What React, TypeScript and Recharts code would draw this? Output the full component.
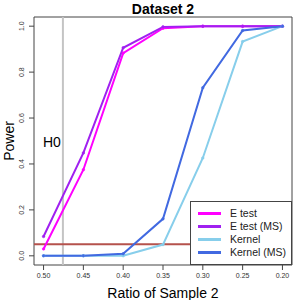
import React from 'react';
import {
  LineChart, Line, XAxis, YAxis, ReferenceLine, ReferenceArea, Legend, Customized,
} from 'recharts';

const ratios = [0.5, 0.45, 0.4, 0.35, 0.3, 0.25, 0.2];
const eTest = [0.03, 0.375, 0.883, 0.991, 1, 1, 1];
const eTestMS = [0.084, 0.448, 0.906, 0.997, 1, 1, 1];
const kernel = [0, 0, 0, 0.049, 0.426, 0.933, 1];
const kernelMS = [0, 0, 0.009, 0.161, 0.732, 0.981, 1];
const xTicks = [0.5, 0.45, 0.4, 0.35, 0.3, 0.25, 0.2];
const yTicks = [0, 0.2, 0.4, 0.6, 0.8, 1.0];
const h0Ratio = 0.4757;
const alphaLevel = 0.05;

const seriesNames = ['E test', 'E test (MS)', 'Kernel', 'Kernel (MS)'];
const seriesKeys = ['eTest', 'eTestMS', 'kernel', 'kernelMS'];
const seriesColors = ['#ff00ff', '#a020f0', '#87ceeb', '#4169e1'];

const data = ratios.map((r, i) => ({
  ratio: r,
  eTest: eTest[i],
  eTestMS: eTestMS[i],
  kernel: kernel[i],
  kernelMS: kernelMS[i],
}));

const FONT = '"Liberation Sans", Arial, Helvetica, sans-serif';

const YTick = (props: any) => {
  const { x, y, payload } = props;
  const bx = x - 2.5;
  return (
    <text x={bx} y={y} transform={`rotate(-90, ${bx}, ${y})`} textAnchor="middle"
      fontSize={7} fill="#333" fontFamily={FONT}>
      {Number(payload.value).toFixed(1)}
    </text>
  );
};

const LegendBox = () => (
  <div style={{
    width: 102, height: 64, boxSizing: 'border-box', border: '1px solid #444',
    background: '#fff', paddingTop: 5, fontFamily: FONT,
  }}>
    {seriesNames.map((n, i) => (
      <div key={n} style={{ display: 'flex', alignItems: 'center', height: 13 }}>
        <div style={{ marginLeft: 7, width: 23, height: 3, background: seriesColors[i] }} />
        <span style={{ marginLeft: 9, fontSize: 10.5, color: '#222', lineHeight: '13px', whiteSpace: 'nowrap' }}>{n}</span>
      </div>
    ))}
  </div>
);

const Texts = () => (
  <g fontFamily={FONT}>
    <text x={163} y={14} textAnchor="middle" fontSize={14} fontWeight="bold" fill="#000">Dataset 2</text>
    <text x={163} y={298} textAnchor="middle" fontSize={14} fill="#000">Ratio of Sample 2</text>
    <text x={14} y={141} transform="rotate(-90, 14, 141)" textAnchor="middle" fontSize={14} fill="#000">Power</text>
  </g>
);

export default function App() {
  return (
    <div style={{ position: 'absolute', left: 0, top: 0, background: '#fff' }}>
      <LineChart width={300} height={300} data={data}
        margin={{ top: 17, right: 8, left: 0, bottom: 0 }}>
        <XAxis dataKey="ratio" type="number" domain={[0.188, 0.512]} reversed
          ticks={xTicks} interval={0} height={35} tickSize={5} tickMargin={3}
          axisLine={false} tickLine={{ stroke: '#444' }}
          tick={{ fontSize: 7, fill: '#333', fontFamily: FONT }}
          tickFormatter={(v: number) => v.toFixed(2)} allowDataOverflow />
        <YAxis type="number" domain={[-0.04, 1.04]} ticks={yTicks} interval={0}
          width={34} tickSize={5} axisLine={false} tickLine={{ stroke: '#444' }}
          tick={<YTick />} allowDataOverflow />
        <ReferenceLine x={h0Ratio} stroke="#c4c4c4" strokeWidth={2}
          label={(p: any) => (
            <text x={p.viewBox.x - 2} y={p.viewBox.y + p.viewBox.height / 2 + 5.5}
              textAnchor="end" fontSize={14} fill="#000" fontFamily={FONT}>H0</text>
          )} />
        <ReferenceLine y={alphaLevel} stroke="#b5524c" strokeWidth={2} />
        {seriesKeys.map((k, i) => (
          <Line key={k} dataKey={k} name={seriesNames[i]} stroke={seriesColors[i]}
            strokeWidth={2} isAnimationActive={false}
            dot={{ r: 1.3, fill: seriesColors[i], stroke: seriesColors[i], strokeWidth: 0.5 }} />
        ))}
        <ReferenceArea x1={0.188} x2={0.512} y1={-0.04} y2={1.04} fill="none"
          fillOpacity={0} stroke="#444" strokeWidth={1} ifOverflow="visible" />
        <Legend layout="vertical" align="center" verticalAlign="middle"
          content={<LegendBox />}
          wrapperStyle={{ position: 'absolute', left: 190, top: 201, width: 102, height: 64 }} />
        <Customized component={<Texts />} />
      </LineChart>
    </div>
  );
}
